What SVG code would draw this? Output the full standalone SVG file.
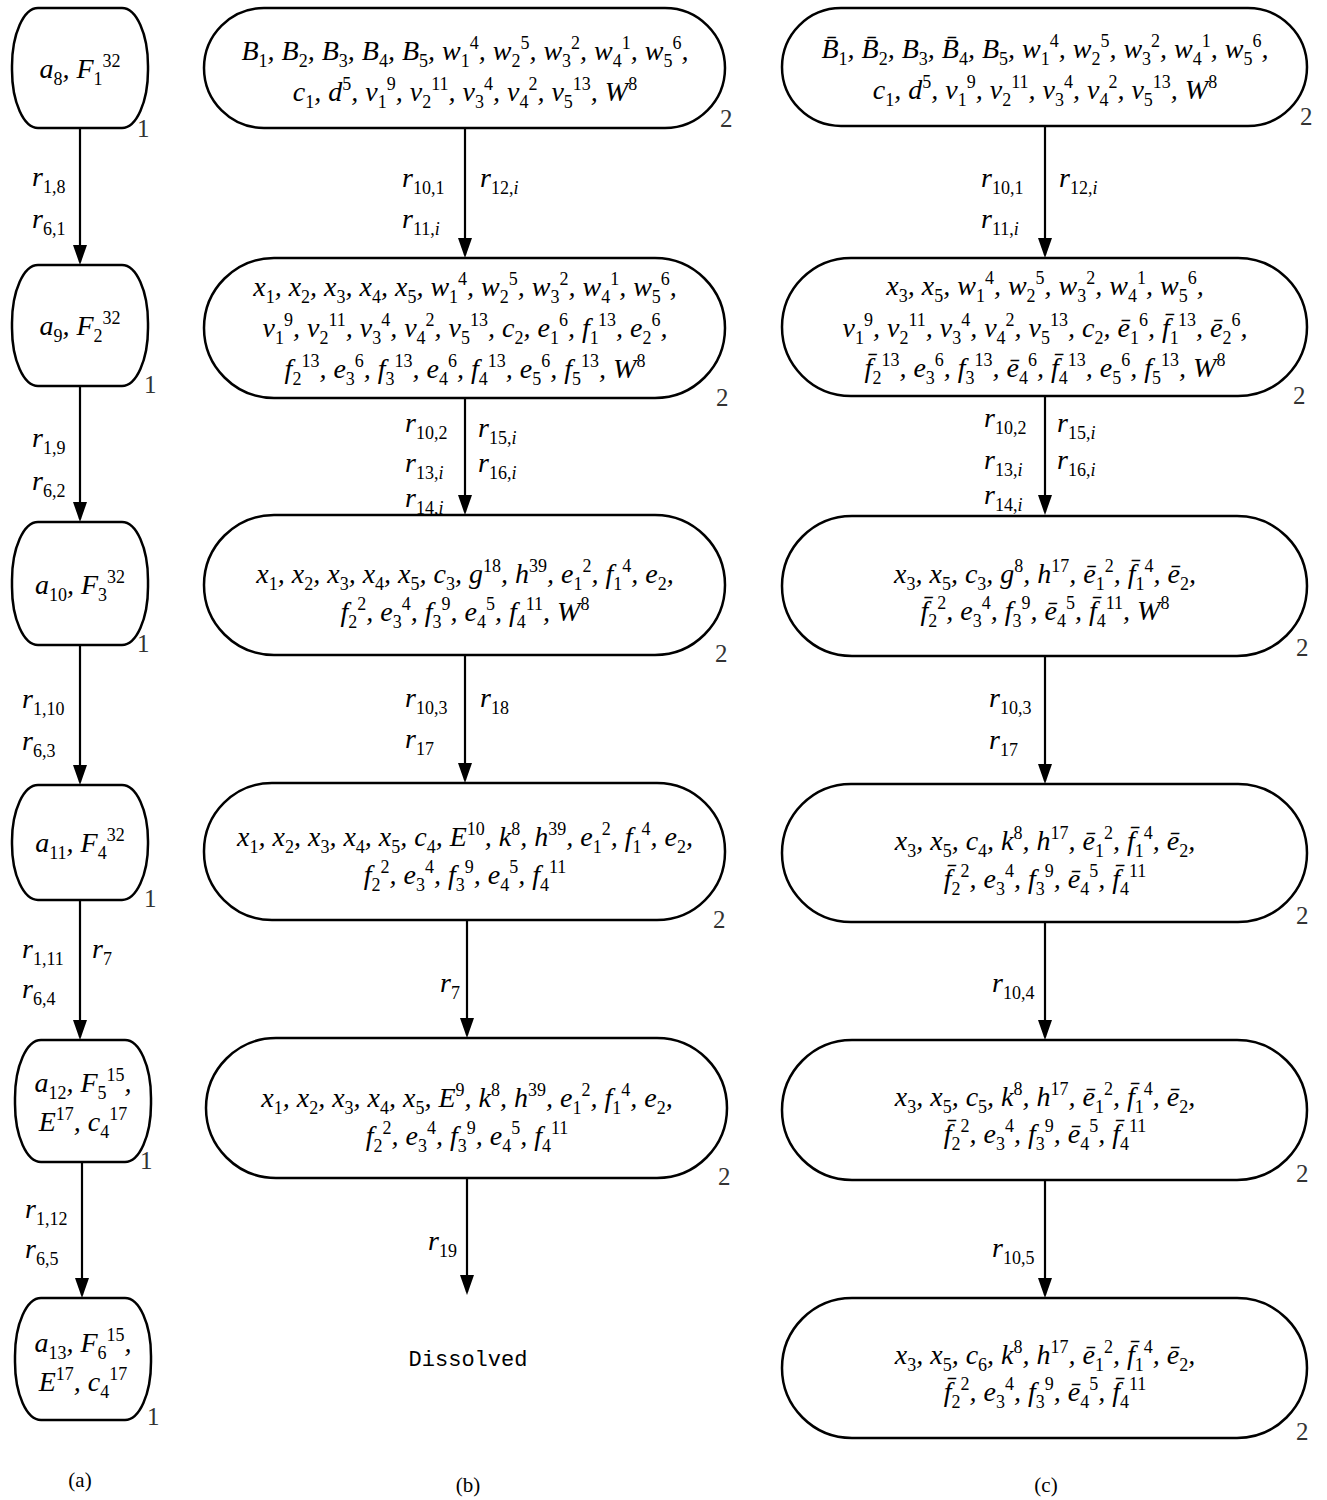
<svg xmlns="http://www.w3.org/2000/svg" width="1327" height="1500" viewBox="0 0 1327 1500">
<style>
.t{font-family:"Liberation Serif","DejaVu Serif",serif;font-style:italic;font-size:28px;fill:#000}
.m{text-anchor:middle}
.s{font-size:18px;font-style:normal;baseline-shift:-7px}
.si{font-size:18px;font-style:italic;baseline-shift:-7px}
.u{font-size:18px;font-style:normal;baseline-shift:11px}
.node{fill:#fff;stroke:#000;stroke-width:2.5}
.lab{font-family:"Liberation Serif","DejaVu Serif",serif;font-size:25px;fill:#333}
.cap{font-family:"Liberation Serif","DejaVu Serif",serif;font-size:21px;fill:#000;text-anchor:middle}
.edge{stroke:#000;stroke-width:2.2;fill:none;marker-end:url(#ah)}
</style>
<defs>
<marker id="ah" markerUnits="userSpaceOnUse" viewBox="0 0 20 14" refX="17" refY="7" markerWidth="20" markerHeight="14" orient="auto">
<path d="M0,0 L20,7 L0,14 z" fill="#000"/>
</marker>
</defs>
<rect width="1327" height="1500" fill="#fff"/>

<g id="connectors">
<line class="edge" x1="80" y1="128" x2="80" y2="262"/>
<line class="edge" x1="80" y1="386" x2="80" y2="519"/>
<line class="edge" x1="80" y1="645" x2="80" y2="782"/>
<line class="edge" x1="80" y1="900" x2="80" y2="1037"/>
<line class="edge" x1="82" y1="1162" x2="82" y2="1295"/>
<line class="edge" x1="465" y1="128" x2="465" y2="255"/>
<line class="edge" x1="465" y1="398" x2="465" y2="512"/>
<line class="edge" x1="465" y1="655" x2="465" y2="780"/>
<line class="edge" x1="467" y1="920" x2="467" y2="1035"/>
<line class="edge" x1="467" y1="1178" x2="467" y2="1292"/>
<line class="edge" x1="1045" y1="126" x2="1045" y2="255"/>
<line class="edge" x1="1045" y1="396" x2="1045" y2="512"/>
<line class="edge" x1="1045" y1="656" x2="1045" y2="781"/>
<line class="edge" x1="1045" y1="922" x2="1045" y2="1037"/>
<line class="edge" x1="1045" y1="1180" x2="1045" y2="1295"/>
<g class="t">
<text x="32" y="186">r<tspan class="s">1,8</tspan></text>
<text x="32" y="228">r<tspan class="s">6,1</tspan></text>
<text x="32" y="447">r<tspan class="s">1,9</tspan></text>
<text x="32" y="490">r<tspan class="s">6,2</tspan></text>
<text x="22" y="708">r<tspan class="s">1,10</tspan></text>
<text x="22" y="750">r<tspan class="s">6,3</tspan></text>
<text x="22" y="958">r<tspan class="s">1,11</tspan></text>
<text x="92" y="958">r<tspan class="s">7</tspan></text>
<text x="22" y="998">r<tspan class="s">6,4</tspan></text>
<text x="25" y="1218">r<tspan class="s">1,12</tspan></text>
<text x="25" y="1258">r<tspan class="s">6,5</tspan></text>

<text x="402" y="187">r<tspan class="s">10,1</tspan></text>
<text x="480" y="187">r<tspan class="s">12,</tspan><tspan class="si">i</tspan></text>
<text x="402" y="228">r<tspan class="s">11,</tspan><tspan class="si">i</tspan></text>
<text x="405" y="432">r<tspan class="s">10,2</tspan></text>
<text x="478" y="437">r<tspan class="s">15,</tspan><tspan class="si">i</tspan></text>
<text x="405" y="472">r<tspan class="s">13,</tspan><tspan class="si">i</tspan></text>
<text x="478" y="472">r<tspan class="s">16,</tspan><tspan class="si">i</tspan></text>
<text x="405" y="507">r<tspan class="s">14,</tspan><tspan class="si">i</tspan></text>
<text x="405" y="707">r<tspan class="s">10,3</tspan></text>
<text x="480" y="707">r<tspan class="s">18</tspan></text>
<text x="405" y="748">r<tspan class="s">17</tspan></text>
<text x="440" y="992">r<tspan class="s">7</tspan></text>
<text x="428" y="1250">r<tspan class="s">19</tspan></text>

<text x="981" y="187">r<tspan class="s">10,1</tspan></text>
<text x="1059" y="187">r<tspan class="s">12,</tspan><tspan class="si">i</tspan></text>
<text x="981" y="228">r<tspan class="s">11,</tspan><tspan class="si">i</tspan></text>
<text x="984" y="427">r<tspan class="s">10,2</tspan></text>
<text x="1057" y="432">r<tspan class="s">15,</tspan><tspan class="si">i</tspan></text>
<text x="984" y="469">r<tspan class="s">13,</tspan><tspan class="si">i</tspan></text>
<text x="1057" y="469">r<tspan class="s">16,</tspan><tspan class="si">i</tspan></text>
<text x="984" y="504">r<tspan class="s">14,</tspan><tspan class="si">i</tspan></text>
<text x="989" y="707">r<tspan class="s">10,3</tspan></text>
<text x="989" y="749">r<tspan class="s">17</tspan></text>
<text x="992" y="992">r<tspan class="s">10,4</tspan></text>
<text x="992" y="1257">r<tspan class="s">10,5</tspan></text>
</g>
</g>

<!-- column (a) -->
<g id="a1"><rect class="node" x="12" y="8" width="136" height="120" rx="26" ry="58"/>
<text class="t m" x="80" y="78">a<tspan class="s">8</tspan>, F<tspan class="s">1</tspan><tspan class="u">32</tspan></text>
<text class="lab" x="137" y="137">1</text></g>
<g id="a2"><rect class="node" x="12" y="265" width="136" height="121" rx="26" ry="58"/>
<text class="t m" x="80" y="335">a<tspan class="s">9</tspan>, F<tspan class="s">2</tspan><tspan class="u">32</tspan></text>
<text class="lab" x="144" y="393">1</text></g>
<g id="a3"><rect class="node" x="12" y="522" width="136" height="123" rx="26" ry="58"/>
<text class="t m" x="80" y="594">a<tspan class="s">10</tspan>, F<tspan class="s">3</tspan><tspan class="u">32</tspan></text>
<text class="lab" x="137" y="652">1</text></g>
<g id="a4"><rect class="node" x="12" y="785" width="136" height="115" rx="26" ry="56"/>
<text class="t m" x="80" y="852">a<tspan class="s">11</tspan>, F<tspan class="s">4</tspan><tspan class="u">32</tspan></text>
<text class="lab" x="144" y="907">1</text></g>
<g id="a5"><rect class="node" x="15" y="1040" width="136" height="122" rx="26" ry="58"/>
<text class="t m" x="83" y="1092">a<tspan class="s">12</tspan>, F<tspan class="s">5</tspan><tspan class="u">15</tspan>,</text>
<text class="t m" x="83" y="1131">E<tspan class="u">17</tspan>, c<tspan class="s">4</tspan><tspan class="u">17</tspan></text>
<text class="lab" x="140" y="1169">1</text></g>
<g id="a6"><rect class="node" x="15" y="1298" width="136" height="122" rx="26" ry="58"/>
<text class="t m" x="83" y="1352">a<tspan class="s">13</tspan>, F<tspan class="s">6</tspan><tspan class="u">15</tspan>,</text>
<text class="t m" x="83" y="1391">E<tspan class="u">17</tspan>, c<tspan class="s">4</tspan><tspan class="u">17</tspan></text>
<text class="lab" x="147" y="1425">1</text></g>

<!-- column (b) -->
<g id="b1"><rect class="node" x="204" y="8" width="521" height="120" rx="60" ry="60"/>
<text class="t m" x="465" y="60">B<tspan class="s">1</tspan>, B<tspan class="s">2</tspan>, B<tspan class="s">3</tspan>, B<tspan class="s">4</tspan>, B<tspan class="s">5</tspan>, w<tspan class="s">1</tspan><tspan class="u">4</tspan>, w<tspan class="s">2</tspan><tspan class="u">5</tspan>, w<tspan class="s">3</tspan><tspan class="u">2</tspan>, w<tspan class="s">4</tspan><tspan class="u">1</tspan>, w<tspan class="s">5</tspan><tspan class="u">6</tspan>,</text>
<text class="t m" x="465" y="101">c<tspan class="s">1</tspan>, d<tspan class="u">5</tspan>, v<tspan class="s">1</tspan><tspan class="u">9</tspan>, v<tspan class="s">2</tspan><tspan class="u">11</tspan>, v<tspan class="s">3</tspan><tspan class="u">4</tspan>, v<tspan class="s">4</tspan><tspan class="u">2</tspan>, v<tspan class="s">5</tspan><tspan class="u">13</tspan>, W<tspan class="u">8</tspan></text>
<text class="lab" x="720" y="127">2</text></g>

<g id="b2"><rect class="node" x="204" y="258" width="521" height="140" rx="70" ry="70"/>
<text class="t m" x="465" y="296">x<tspan class="s">1</tspan>, x<tspan class="s">2</tspan>, x<tspan class="s">3</tspan>, x<tspan class="s">4</tspan>, x<tspan class="s">5</tspan>, w<tspan class="s">1</tspan><tspan class="u">4</tspan>, w<tspan class="s">2</tspan><tspan class="u">5</tspan>, w<tspan class="s">3</tspan><tspan class="u">2</tspan>, w<tspan class="s">4</tspan><tspan class="u">1</tspan>, w<tspan class="s">5</tspan><tspan class="u">6</tspan>,</text>
<text class="t m" x="465" y="337">v<tspan class="s">1</tspan><tspan class="u">9</tspan>, v<tspan class="s">2</tspan><tspan class="u">11</tspan>, v<tspan class="s">3</tspan><tspan class="u">4</tspan>, v<tspan class="s">4</tspan><tspan class="u">2</tspan>, v<tspan class="s">5</tspan><tspan class="u">13</tspan>, c<tspan class="s">2</tspan>, e<tspan class="s">1</tspan><tspan class="u">6</tspan>, f<tspan class="s">1</tspan><tspan class="u">13</tspan>, e<tspan class="s">2</tspan><tspan class="u">6</tspan>,</text>
<text class="t m" x="465" y="378">f<tspan class="s">2</tspan><tspan class="u">13</tspan>, e<tspan class="s">3</tspan><tspan class="u">6</tspan>, f<tspan class="s">3</tspan><tspan class="u">13</tspan>, e<tspan class="s">4</tspan><tspan class="u">6</tspan>, f<tspan class="s">4</tspan><tspan class="u">13</tspan>, e<tspan class="s">5</tspan><tspan class="u">6</tspan>, f<tspan class="s">5</tspan><tspan class="u">13</tspan>, W<tspan class="u">8</tspan></text>
<text class="lab" x="716" y="406">2</text></g>

<g id="b3"><rect class="node" x="204" y="515" width="521" height="140" rx="70" ry="70"/>
<text class="t m" x="465" y="583">x<tspan class="s">1</tspan>, x<tspan class="s">2</tspan>, x<tspan class="s">3</tspan>, x<tspan class="s">4</tspan>, x<tspan class="s">5</tspan>, c<tspan class="s">3</tspan>, g<tspan class="u">18</tspan>, h<tspan class="u">39</tspan>, e<tspan class="s">1</tspan><tspan class="u">2</tspan>, f<tspan class="s">1</tspan><tspan class="u">4</tspan>, e<tspan class="s">2</tspan>,</text>
<text class="t m" x="465" y="621">f<tspan class="s">2</tspan><tspan class="u">2</tspan>, e<tspan class="s">3</tspan><tspan class="u">4</tspan>, f<tspan class="s">3</tspan><tspan class="u">9</tspan>, e<tspan class="s">4</tspan><tspan class="u">5</tspan>, f<tspan class="s">4</tspan><tspan class="u">11</tspan>, W<tspan class="u">8</tspan></text>
<text class="lab" x="715" y="662">2</text></g>

<g id="b4"><rect class="node" x="204" y="783" width="521" height="137" rx="68" ry="68"/>
<text class="t m" x="465" y="846">x<tspan class="s">1</tspan>, x<tspan class="s">2</tspan>, x<tspan class="s">3</tspan>, x<tspan class="s">4</tspan>, x<tspan class="s">5</tspan>, c<tspan class="s">4</tspan>, E<tspan class="u">10</tspan>, k<tspan class="u">8</tspan>, h<tspan class="u">39</tspan>, e<tspan class="s">1</tspan><tspan class="u">2</tspan>, f<tspan class="s">1</tspan><tspan class="u">4</tspan>, e<tspan class="s">2</tspan>,</text>
<text class="t m" x="465" y="884">f<tspan class="s">2</tspan><tspan class="u">2</tspan>, e<tspan class="s">3</tspan><tspan class="u">4</tspan>, f<tspan class="s">3</tspan><tspan class="u">9</tspan>, e<tspan class="s">4</tspan><tspan class="u">5</tspan>, f<tspan class="s">4</tspan><tspan class="u">11</tspan></text>
<text class="lab" x="713" y="928">2</text></g>

<g id="b5"><rect class="node" x="206" y="1038" width="521" height="140" rx="70" ry="70"/>
<text class="t m" x="467" y="1107">x<tspan class="s">1</tspan>, x<tspan class="s">2</tspan>, x<tspan class="s">3</tspan>, x<tspan class="s">4</tspan>, x<tspan class="s">5</tspan>, E<tspan class="u">9</tspan>, k<tspan class="u">8</tspan>, h<tspan class="u">39</tspan>, e<tspan class="s">1</tspan><tspan class="u">2</tspan>, f<tspan class="s">1</tspan><tspan class="u">4</tspan>, e<tspan class="s">2</tspan>,</text>
<text class="t m" x="467" y="1145">f<tspan class="s">2</tspan><tspan class="u">2</tspan>, e<tspan class="s">3</tspan><tspan class="u">4</tspan>, f<tspan class="s">3</tspan><tspan class="u">9</tspan>, e<tspan class="s">4</tspan><tspan class="u">5</tspan>, f<tspan class="s">4</tspan><tspan class="u">11</tspan></text>
<text class="lab" x="718" y="1185">2</text></g>

<g id="dissolved"><text x="468" y="1366" style="font-family:'Liberation Mono','DejaVu Sans Mono',monospace;font-size:22px;text-anchor:middle">Dissolved</text></g>

<!-- column (c) -->
<g id="c1"><rect class="node" x="782" y="8" width="525" height="118" rx="59" ry="59"/>
<text class="t m" x="1045" y="58">B&#x0304;<tspan class="s">1</tspan>, B&#x0304;<tspan class="s">2</tspan>, B<tspan class="s">3</tspan>, B&#x0304;<tspan class="s">4</tspan>, B<tspan class="s">5</tspan>, w<tspan class="s">1</tspan><tspan class="u">4</tspan>, w<tspan class="s">2</tspan><tspan class="u">5</tspan>, w<tspan class="s">3</tspan><tspan class="u">2</tspan>, w<tspan class="s">4</tspan><tspan class="u">1</tspan>, w<tspan class="s">5</tspan><tspan class="u">6</tspan>,</text>
<text class="t m" x="1045" y="99">c<tspan class="s">1</tspan>, d<tspan class="u">5</tspan>, v<tspan class="s">1</tspan><tspan class="u">9</tspan>, v<tspan class="s">2</tspan><tspan class="u">11</tspan>, v<tspan class="s">3</tspan><tspan class="u">4</tspan>, v<tspan class="s">4</tspan><tspan class="u">2</tspan>, v<tspan class="s">5</tspan><tspan class="u">13</tspan>, W<tspan class="u">8</tspan></text>
<text class="lab" x="1300" y="125">2</text></g>

<g id="c2"><rect class="node" x="782" y="258" width="525" height="138" rx="69" ry="69"/>
<text class="t m" x="1045" y="295">x<tspan class="s">3</tspan>, x<tspan class="s">5</tspan>, w<tspan class="s">1</tspan><tspan class="u">4</tspan>, w<tspan class="s">2</tspan><tspan class="u">5</tspan>, w<tspan class="s">3</tspan><tspan class="u">2</tspan>, w<tspan class="s">4</tspan><tspan class="u">1</tspan>, w<tspan class="s">5</tspan><tspan class="u">6</tspan>,</text>
<text class="t m" x="1045" y="337">v<tspan class="s">1</tspan><tspan class="u">9</tspan>, v<tspan class="s">2</tspan><tspan class="u">11</tspan>, v<tspan class="s">3</tspan><tspan class="u">4</tspan>, v<tspan class="s">4</tspan><tspan class="u">2</tspan>, v<tspan class="s">5</tspan><tspan class="u">13</tspan>, c<tspan class="s">2</tspan>, e&#x0304;<tspan class="s">1</tspan><tspan class="u">6</tspan>, f&#x0304;<tspan class="s">1</tspan><tspan class="u">13</tspan>, e&#x0304;<tspan class="s">2</tspan><tspan class="u">6</tspan>,</text>
<text class="t m" x="1045" y="377">f&#x0304;<tspan class="s">2</tspan><tspan class="u">13</tspan>, e<tspan class="s">3</tspan><tspan class="u">6</tspan>, f<tspan class="s">3</tspan><tspan class="u">13</tspan>, e&#x0304;<tspan class="s">4</tspan><tspan class="u">6</tspan>, f&#x0304;<tspan class="s">4</tspan><tspan class="u">13</tspan>, e<tspan class="s">5</tspan><tspan class="u">6</tspan>, f<tspan class="s">5</tspan><tspan class="u">13</tspan>, W<tspan class="u">8</tspan></text>
<text class="lab" x="1293" y="404">2</text></g>

<g id="c3"><rect class="node" x="782" y="516" width="525" height="140" rx="70" ry="70"/>
<text class="t m" x="1045" y="583">x<tspan class="s">3</tspan>, x<tspan class="s">5</tspan>, c<tspan class="s">3</tspan>, g<tspan class="u">8</tspan>, h<tspan class="u">17</tspan>, e&#x0304;<tspan class="s">1</tspan><tspan class="u">2</tspan>, f&#x0304;<tspan class="s">1</tspan><tspan class="u">4</tspan>, e&#x0304;<tspan class="s">2</tspan>,</text>
<text class="t m" x="1045" y="620">f&#x0304;<tspan class="s">2</tspan><tspan class="u">2</tspan>, e<tspan class="s">3</tspan><tspan class="u">4</tspan>, f<tspan class="s">3</tspan><tspan class="u">9</tspan>, e&#x0304;<tspan class="s">4</tspan><tspan class="u">5</tspan>, f&#x0304;<tspan class="s">4</tspan><tspan class="u">11</tspan>, W<tspan class="u">8</tspan></text>
<text class="lab" x="1296" y="656">2</text></g>

<g id="c4"><rect class="node" x="782" y="784" width="525" height="138" rx="69" ry="69"/>
<text class="t m" x="1045" y="850">x<tspan class="s">3</tspan>, x<tspan class="s">5</tspan>, c<tspan class="s">4</tspan>, k<tspan class="u">8</tspan>, h<tspan class="u">17</tspan>, e&#x0304;<tspan class="s">1</tspan><tspan class="u">2</tspan>, f&#x0304;<tspan class="s">1</tspan><tspan class="u">4</tspan>, e&#x0304;<tspan class="s">2</tspan>,</text>
<text class="t m" x="1045" y="888">f&#x0304;<tspan class="s">2</tspan><tspan class="u">2</tspan>, e<tspan class="s">3</tspan><tspan class="u">4</tspan>, f<tspan class="s">3</tspan><tspan class="u">9</tspan>, e&#x0304;<tspan class="s">4</tspan><tspan class="u">5</tspan>, f&#x0304;<tspan class="s">4</tspan><tspan class="u">11</tspan></text>
<text class="lab" x="1296" y="924">2</text></g>

<g id="c5"><rect class="node" x="782" y="1040" width="525" height="140" rx="70" ry="70"/>
<text class="t m" x="1045" y="1106">x<tspan class="s">3</tspan>, x<tspan class="s">5</tspan>, c<tspan class="s">5</tspan>, k<tspan class="u">8</tspan>, h<tspan class="u">17</tspan>, e&#x0304;<tspan class="s">1</tspan><tspan class="u">2</tspan>, f&#x0304;<tspan class="s">1</tspan><tspan class="u">4</tspan>, e&#x0304;<tspan class="s">2</tspan>,</text>
<text class="t m" x="1045" y="1143">f&#x0304;<tspan class="s">2</tspan><tspan class="u">2</tspan>, e<tspan class="s">3</tspan><tspan class="u">4</tspan>, f<tspan class="s">3</tspan><tspan class="u">9</tspan>, e&#x0304;<tspan class="s">4</tspan><tspan class="u">5</tspan>, f&#x0304;<tspan class="s">4</tspan><tspan class="u">11</tspan></text>
<text class="lab" x="1296" y="1182">2</text></g>

<g id="c6"><rect class="node" x="782" y="1298" width="525" height="140" rx="70" ry="70"/>
<text class="t m" x="1045" y="1364">x<tspan class="s">3</tspan>, x<tspan class="s">5</tspan>, c<tspan class="s">6</tspan>, k<tspan class="u">8</tspan>, h<tspan class="u">17</tspan>, e&#x0304;<tspan class="s">1</tspan><tspan class="u">2</tspan>, f&#x0304;<tspan class="s">1</tspan><tspan class="u">4</tspan>, e&#x0304;<tspan class="s">2</tspan>,</text>
<text class="t m" x="1045" y="1401">f&#x0304;<tspan class="s">2</tspan><tspan class="u">2</tspan>, e<tspan class="s">3</tspan><tspan class="u">4</tspan>, f<tspan class="s">3</tspan><tspan class="u">9</tspan>, e&#x0304;<tspan class="s">4</tspan><tspan class="u">5</tspan>, f&#x0304;<tspan class="s">4</tspan><tspan class="u">11</tspan></text>
<text class="lab" x="1296" y="1440">2</text></g>

<g id="captions">
<text class="cap" x="80" y="1487">(a)</text>
<text class="cap" x="468" y="1492">(b)</text>
<text class="cap" x="1046" y="1492">(c)</text>
</g>
</svg>
